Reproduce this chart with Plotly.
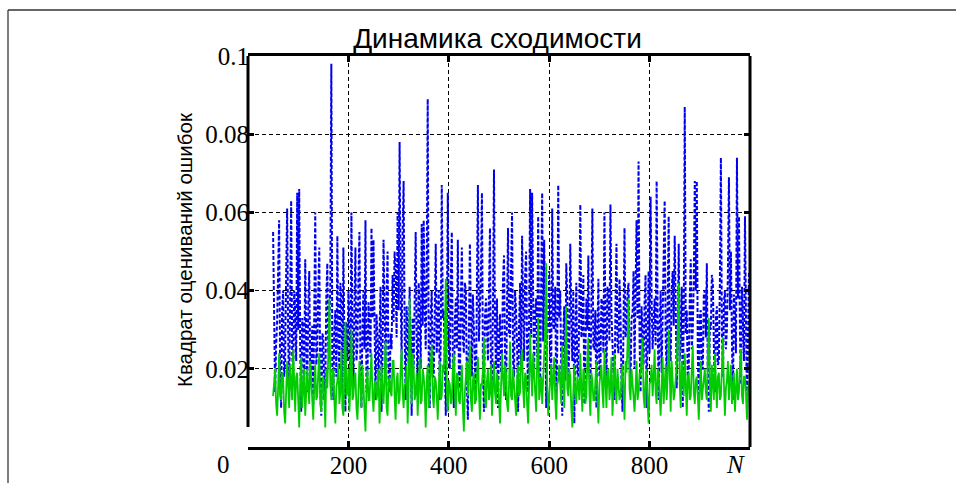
import plotly.graph_objects as go

# sample index (step 2) and values in thousandths
n_start = 50
n_step = 2

blue_milli = [
    55,30, 14,26, 32,45, 58,20, 10,35, 40,18, 22,44, 61,28, 12,38, 63,24,
    18,40, 35,22, 65,30, 66,25, 9,33, 30,16, 48,27, 14,36, 45,19, 20,31,
    11,34, 60,21, 25,40, 51,15, 8,29, 28,12, 16,38, 47,24, 30,42, 98,20,
    12,30, 35,18, 54,26, 20,42, 38,14, 51,27, 9,32, 22,40, 33,17, 60,28,
    15,36, 51,22, 26,43, 55,19, 10,31, 40,25, 58,14, 18,37, 30,23, 56,33,
    53,26, 12,34, 28,17, 36,41, 9,24, 53,30, 20,38, 50,16, 14,29, 25,44,
    32,50, 45,28, 60,35, 78,40, 22,55, 68,30, 12,36, 30,21, 41,26, 8,33,
    20,38, 55,27, 15,42, 35,20, 57,31, 58,36, 25,45, 89,22, 10,34, 40,18,
    18,35, 52,24, 30,40, 12,28, 67,33, 35,19, 8,30, 65,26, 20,43, 55,21,
    10,32, 38,25, 53,20, 15,37, 51,28, 24,42, 40,16, 7,29, 52,34, 18,39,
    30,22, 12,41, 67,27, 35,44, 65,20, 9,33, 38,26, 22,40, 56,18, 15,35,
    71,30, 20,38, 10,27, 34,19, 25,43, 49,24, 12,36, 56,29, 28,45, 60,22,
    18,40, 35,26, 9,31, 42,20, 54,37, 22,44, 50,25, 14,33, 66,28, 65,39,
    20,34, 38,23, 59,30, 16,42, 65,27, 53,35, 10,28, 32,45, 24,19, 61,31,
    30,41, 12,25, 67,33, 40,20, 8,29, 36,17, 47,38, 15,26, 52,34, 22,40,
    6,27, 42,19, 18,36, 62,28, 30,44, 11,23, 38,30, 49,21, 14,37, 61,25,
    25,35, 10,29, 43,18, 20,38, 36,24, 60,32, 15,41, 40,27, 62,34, 28,20,
    12,36, 52,26, 24,43, 35,17, 9,31, 56,28, 30,39, 42,22, 16,33, 34,45,
    20,40, 58,33, 73,27, 14,36, 30,21, 37,44, 10,29, 45,24, 64,38, 25,32,
    38,26, 68,35, 12,30, 40,19, 33,42, 63,28, 18,37, 59,25, 22,40, 45,31,
    54,36, 15,27, 52,22, 28,41, 10,33, 87,29, 35,18, 20,38, 48,25, 30,43,
    68,40, 68,24, 12,34, 35,20, 20,39, 40,28, 47,17, 9,31, 30,44, 42,26,
    14,33, 36,21, 22,42, 74,30, 18,37, 40,25, 30,45, 69,35, 50,27, 12,39,
    35,24, 74,38, 59,29, 16,41, 30,22, 59,34, 8,27, 45,
]

green_milli = [
    13,17, 20,11, 8,15, 24,13, 12,19, 18,9, 6,14, 22,16, 10,21, 16,12,
    25,14, 9,18, 19,12, 5,16, 23,10, 14,20, 8,13, 20,15, 11,22, 17,10,
    7,16, 21,12, 13,19, 24,11, 9,17, 18,13, 5,20, 15,24, 38,16, 12,19,
    20,12, 6,15, 17,21, 11,14, 25,10, 8,18, 32,13, 14,20, 9,16, 30,12,
    13,18, 19,10, 7,14, 22,16, 10,21, 16,11, 4,15, 20,12, 12,19, 24,13,
    9,16, 17,12, 14,20, 6,13, 21,15, 11,18, 27,10, 8,17, 18,14, 13,22,
    22,13, 7,17, 19,11, 12,20, 25,14, 10,16, 16,21, 6,15, 38,18, 11,24,
    20,12, 14,19, 8,16, 23,11, 12,20, 18,14, 5,17, 21,10, 15,22, 26,13,
    10,18, 17,13, 7,15, 22,12, 13,21, 19,28, 43,14, 9,17, 16,11, 12,20,
    24,15, 8,19, 18,12, 11,16, 21,10, 4,14, 17,22, 13,18, 26,12, 9,17,
    19,11, 12,18, 23,14, 7,16, 16,20, 28,13, 10,17, 20,12, 14,21, 8,15,
    22,14, 11,19, 17,12, 6,15, 24,18, 13,21, 19,11, 9,16, 27,13, 12,20,
    16,12, 8,17, 21,13, 14,22, 25,15, 10,19, 18,11, 6,16, 29,20, 13,24,
    20,14, 9,22, 33,12, 15,18, 11,20, 24,30, 47,16, 8,13, 19,21, 12,17,
    23,12, 7,16, 17,21, 14,11, 26,18, 10,24, 36,15, 13,20, 18,10, 5,14,
    21,13, 11,18, 16,12, 24,15, 9,20, 19,11, 13,22, 28,14, 8,19, 17,12,
    12,17, 22,13, 6,16, 18,21, 14,10, 25,15, 10,19, 20,12, 15,23, 8,14,
    24,16, 11,20, 17,12, 13,18, 21,14, 7,22, 19,26, 38,15, 12,20, 16,11,
    9,15, 22,12, 14,19, 18,24, 28,13, 10,17, 20,11, 6,16, 17,21, 13,18,
    25,14, 11,20, 19,13, 8,16, 23,11, 15,21, 12,18, 30,15, 9,22, 18,12,
    14,19, 21,30, 42,16, 10,22, 17,13, 24,15, 8,18, 19,12, 13,20, 26,14,
    11,17, 18,13, 7,15, 22,12, 15,19, 20,14, 12,23, 33,16, 9,21, 16,12,
    24,14, 10,18, 19,12, 13,20, 28,16, 8,15, 17,22, 12,17, 21,11, 15,19,
    9,16, 20,12, 14,21, 25,13, 11,18, 18,14, 7,15, 16,
]

x_tick_vals = [200, 400, 600, 800]
x_tick_text = ["200", "400", "600", "800"]
y_tick_vals = [0.02, 0.04, 0.06, 0.08, 0.1]
y_tick_text = ["0.02", "0.04", "0.06", "0.08", "0.1"]

title_text = "Динамика сходимости"
y_title = "Квадрат оцениваний ошибок"

n_blue = [n_start + n_step * i for i in range(len(blue_milli))]
n_green = [n_start + n_step * i for i in range(len(green_milli))]
blue = [v / 1000 for v in blue_milli]
green = [v / 1000 for v in green_milli]

serif = "Liberation Serif, Times New Roman, serif"
sans = "Liberation Sans, Arial, sans-serif"

fig = go.Figure()
fig.add_trace(go.Scatter(x=n_blue, y=blue, mode="lines",
                         line=dict(color="#0000f0", width=2, dash="4px,2px"),
                         showlegend=False, hoverinfo="skip"))
fig.add_trace(go.Scatter(x=n_green, y=green, mode="lines",
                         line=dict(color="#00cc00", width=1.8),
                         showlegend=False, hoverinfo="skip"))

fig.update_layout(
    width=956, height=483,
    margin=dict(l=248, r=206, t=56, b=36),
    paper_bgcolor="white", plot_bgcolor="white",
    title=dict(text=title_text, x=0.497, xref="paper", xanchor="center",
               y=1 - 38 / 483, yref="container", yanchor="middle",
               font=dict(family=sans, size=28, color="black")),
    showlegend=False,
)

fig.update_xaxes(
    range=[0, 1000], tickvals=x_tick_vals, ticktext=x_tick_text,
    showline=True, linecolor="black", linewidth=3, mirror="allticks",
    ticks="inside", ticklen=6, tickwidth=3, tickcolor="black",
    showgrid=True, gridcolor="black", gridwidth=1, griddash="4px,3px",
    zeroline=False, ticklabelstandoff=-6, automargin=False,
    tickfont=dict(family=serif, size=25, color="black"),
)
fig.update_yaxes(
    range=[0, 0.1], tickvals=y_tick_vals, ticktext=y_tick_text,
    showline=False, mirror="allticks",
    ticks="inside", ticklen=6, tickwidth=3, tickcolor="black",
    showgrid=True, gridcolor="black", gridwidth=1, griddash="4px,3px",
    zeroline=False, ticklabelstandoff=-2, automargin=False,
    tickfont=dict(family=serif, size=25, color="black"),
)

def px_x(px):
    return (px - 248) / 502

def px_y(py):
    return (447 - py) / 391

shapes = [
    dict(type="line", xref="paper", yref="paper", x0=0, x1=0,
         y0=px_y(427), y1=1, line=dict(color="black", width=3)),
    dict(type="line", xref="paper", yref="paper", x0=1, x1=1,
         y0=0, y1=1, line=dict(color="black", width=3)),
    dict(type="line", xref="paper", yref="paper", x0=px_x(8), x1=px_x(8),
         y0=px_y(10), y1=px_y(490), line=dict(color="#555555", width=1.5)),
    dict(type="line", xref="paper", yref="paper", x0=px_x(8), x1=px_x(960),
         y0=px_y(10), y1=px_y(10), line=dict(color="#333333", width=1.5)),
]
fig.update_layout(shapes=shapes)

fig.add_annotation(text="0", xref="paper", yref="paper", x=px_x(223), y=px_y(465),
                   showarrow=False, xanchor="center", yanchor="middle",
                   font=dict(family=serif, size=25, color="black"))
fig.add_annotation(text="<i>N</i>", xref="paper", yref="paper", x=px_x(735), y=px_y(465),
                   showarrow=False, xanchor="center", yanchor="middle",
                   font=dict(family=serif, size=25, color="black"))
fig.add_annotation(text=y_title, xref="paper", yref="paper", x=px_x(184), y=px_y(250),
                   textangle=-90, showarrow=False, xanchor="center", yanchor="middle",
                   font=dict(family=sans, size=20.5, color="black"))

fig.write_html(
    "out.html",
    config={"displayModeBar": False},
    post_script="document.body.style.margin='0';document.body.style.overflow='hidden';",
)
